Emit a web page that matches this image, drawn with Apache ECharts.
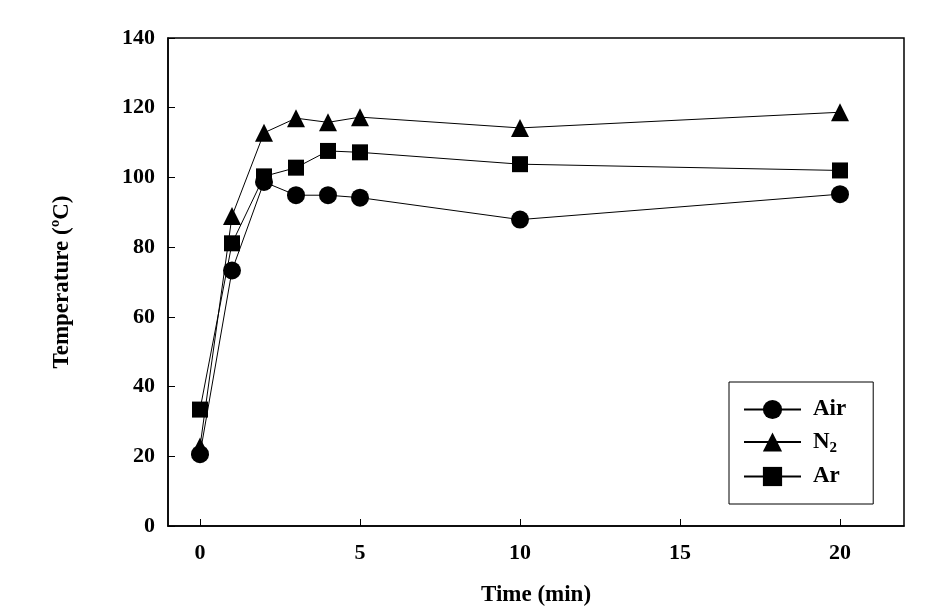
<!DOCTYPE html>
<html><head><meta charset="utf-8">
<script src="https://cdn.jsdelivr.net/npm/echarts@6/dist/echarts.min.js"></script>
<style>html,body{margin:0;padding:0;background:#fff}#c{width:945px;height:613px}</style>
</head><body><div id="c"></div>
<script>
const times = [0, 1, 2, 3, 4, 5, 10, 20];
const air = [20.6, 73.3, 98.7, 94.9, 94.9, 94.2, 87.9, 95.2];
const n2 = [22.8, 88.9, 112.8, 117.0, 115.8, 117.3, 114.2, 118.7];
const ar = [33.4, 81.1, 100.3, 102.8, 107.6, 107.2, 103.8, 102.0];
const xTicks = [0, 5, 10, 15, 20];
const yTicks = [0, 20, 40, 60, 80, 100, 120, 140];
const seriesNames = ['Air', 'N{sub|2}', 'Ar'];

const font = '"Liberation Serif", "Times New Roman", serif';
function pts(vals){ return times.map((t,i)=>[t, vals[i]]); }
function mk(name, vals, symbol, size){
  return {name, type:'line', data:pts(vals), symbol, symbolSize:size,
    itemStyle:{color:'#000'}, lineStyle:{color:'#000', width:1}, z:3, animation:false};
}
const chart = echarts.init(document.getElementById('c'));
chart.setOption({
  animation:false,
  grid:{left:168, right:41, top:38, bottom:87, show:true, borderColor:'#000', borderWidth:1.5},
  xAxis:{type:'value', min:-1, max:22,
    name:'Time (min)', nameLocation:'middle', nameGap:58,
    nameTextStyle:{fontFamily:font, fontWeight:'bold', fontSize:23, color:'#000'},
    axisLine:{onZero:false, lineStyle:{color:'#000', width:1.5}},
    axisTick:{inside:true, length:7, customValues:xTicks, lineStyle:{color:'#000'}},
    axisLabel:{customValues:xTicks, margin:16, fontFamily:font, fontWeight:'bold', fontSize:22, color:'#000'},
    splitLine:{show:false}},
  yAxis:{type:'value', min:0, max:140, interval:20,
    name:'Temperature (\u00BAC)', nameLocation:'middle', nameGap:94, nameRotate:90,
    nameTextStyle:{fontFamily:font, fontWeight:'bold', fontSize:23, color:'#000'},
    axisLine:{onZero:false, lineStyle:{color:'#000', width:1.5}},
    axisTick:{inside:true, length:7, lineStyle:{color:'#000'}},
    axisLabel:{margin:13, fontFamily:font, fontWeight:'bold', fontSize:22, color:'#000'},
    splitLine:{show:false}},
  legend:{orient:'vertical', left:729, top:382,
    borderColor:'#000', borderWidth:1, padding:[16,27,16,14], itemGap:9.5,
    itemWidth:57, itemHeight:24,
    data:seriesNames,
    textStyle:{fontFamily:font, fontWeight:'bold', fontSize:23, color:'#000', padding:[0,0,0,7],
      rich:{sub:{fontFamily:font, fontWeight:'bold', fontSize:15, verticalAlign:'bottom', padding:[12,0,0,0]}}}},
  series:[mk(seriesNames[0], air, 'circle', 18), mk(seriesNames[1], n2, 'triangle', 18), mk(seriesNames[2], ar, 'rect', 16)]
});
</script></body></html>
